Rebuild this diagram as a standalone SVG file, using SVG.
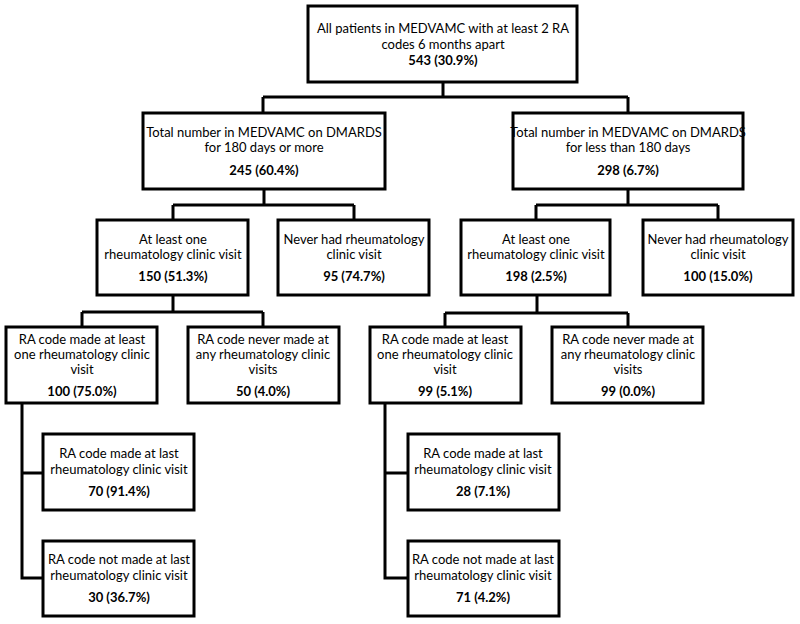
<svg xmlns="http://www.w3.org/2000/svg" width="800" height="624" viewBox="0 0 800 624">
<style>
.box{fill:#fff;stroke:#000;stroke-width:3}
.c{fill:none;stroke:#000;stroke-width:3}
text{font-family:Lato,"Liberation Sans",sans-serif;font-size:13px;fill:#000;text-anchor:middle}
.b{font-weight:bold}
</style>
<rect width="800" height="624" fill="#fff"/>
<g id="connectors">
<path class="c" d="M443 82V97M263 97H628M263 97V113M628 97V113"/>
<path class="c" d="M264 189V205M173 205H354M173 205V220M354 205V220"/>
<path class="c" d="M628 189V205M536 205H718M536 205V220M718 205V220"/>
<path class="c" d="M173 295V312M82 312H263M82 312V327M263 312V327"/>
<path class="c" d="M537 295V313M445 313H628M445 313V327M628 313V327"/>
<path class="c" d="M22 403V578H43M22 473H43"/>
<path class="c" d="M385 403V578H408M385 473H408"/>
</g>
<g id="n_all"><rect class="box" x="308" y="6" width="269" height="76"/>
<text x="443" y="33">All patients in MEDVAMC with at least 2 RA</text><text x="443" y="49">codes 6 months apart</text><text class="b" x="443" y="65">543 (30.9%)</text></g>
<g id="n_ge180"><rect class="box" x="143" y="113" width="242" height="76"/>
<text x="264" y="137">Total number in MEDVAMC on DMARDS</text><text x="264" y="152">for 180 days or more</text><text class="b" x="264" y="175">245 (60.4%)</text></g>
<g id="n_lt180"><rect class="box" x="513" y="113" width="230" height="76"/>
<text x="628" y="137">Total number in MEDVAMC on DMARDS</text><text x="628" y="152">for less than 180 days</text><text class="b" x="628" y="175">298 (6.7%)</text></g>
<g id="n_l_visit"><rect class="box" x="97" y="220" width="151" height="75"/>
<text x="173" y="244">At least one</text><text x="173" y="259">rheumatology clinic visit</text><text class="b" x="173" y="281">150 (51.3%)</text></g>
<g id="n_l_never"><rect class="box" x="278" y="220" width="151" height="75"/>
<text x="354" y="244">Never had rheumatology</text><text x="354" y="259">clinic visit</text><text class="b" x="354" y="281">95 (74.7%)</text></g>
<g id="n_r_visit"><rect class="box" x="461" y="220" width="149" height="75"/>
<text x="536" y="244">At least one</text><text x="536" y="259">rheumatology clinic visit</text><text class="b" x="536" y="281">198 (2.5%)</text></g>
<g id="n_r_never"><rect class="box" x="643" y="220" width="150" height="75"/>
<text x="718" y="244">Never had rheumatology</text><text x="718" y="259">clinic visit</text><text class="b" x="718" y="281">100 (15.0%)</text></g>
<g id="n_l_ra_one"><rect class="box" x="6" y="327" width="151" height="76"/>
<text x="82" y="344">RA code made at least</text><text x="82" y="359">one rheumatology clinic</text><text x="82" y="374">visit</text><text class="b" x="82" y="396">100 (75.0%)</text></g>
<g id="n_l_ra_never"><rect class="box" x="188" y="327" width="151" height="76"/>
<text x="263" y="344">RA code never made at</text><text x="263" y="359">any rheumatology clinic</text><text x="263" y="374">visits</text><text class="b" x="263" y="396">50 (4.0%)</text></g>
<g id="n_r_ra_one"><rect class="box" x="370" y="327" width="151" height="76"/>
<text x="445" y="344">RA code made at least</text><text x="445" y="359">one rheumatology clinic</text><text x="445" y="374">visit</text><text class="b" x="445" y="396">99 (5.1%)</text></g>
<g id="n_r_ra_never"><rect class="box" x="552" y="327" width="151" height="76"/>
<text x="628" y="344">RA code never made at</text><text x="628" y="359">any rheumatology clinic</text><text x="628" y="374">visits</text><text class="b" x="628" y="396">99 (0.0%)</text></g>
<g id="n_l_last"><rect class="box" x="43" y="434" width="151" height="76"/>
<text x="119" y="458">RA code made at last</text><text x="119" y="474">rheumatology clinic visit</text><text class="b" x="119" y="496">70 (91.4%)</text></g>
<g id="n_l_notlast"><rect class="box" x="43" y="541" width="151" height="75"/>
<text x="119" y="564">RA code not made at last</text><text x="119" y="580">rheumatology clinic visit</text><text class="b" x="119" y="602">30 (36.7%)</text></g>
<g id="n_r_last"><rect class="box" x="408" y="434" width="151" height="76"/>
<text x="483" y="458">RA code made at last</text><text x="483" y="474">rheumatology clinic visit</text><text class="b" x="483" y="496">28 (7.1%)</text></g>
<g id="n_r_notlast"><rect class="box" x="408" y="541" width="151" height="75"/>
<text x="483" y="564">RA code not made at last</text><text x="483" y="580">rheumatology clinic visit</text><text class="b" x="483" y="602">71 (4.2%)</text></g>
</svg>
